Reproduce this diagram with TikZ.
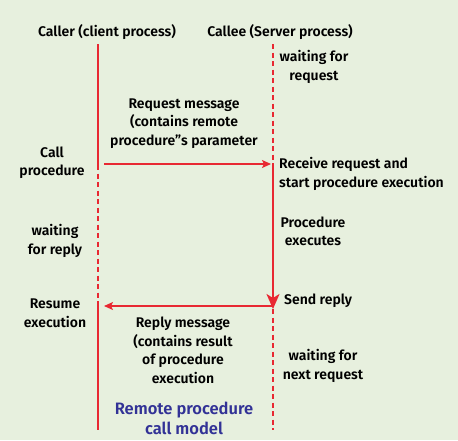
\documentclass[tikz,border=0pt]{standalone}
\usepackage{fontspec}
\setmainfont{Fira Sans}[UprightFont={* SemiBold}]
\usetikzlibrary{arrows.meta}
\definecolor{bg}{RGB}{231,240,222}
\definecolor{rl}{RGB}{232,40,50}
\definecolor{tb}{RGB}{50,50,150}
\begin{document}
\begin{tikzpicture}[x=1pt,y=-1pt,
  lbl/.style={font=\fontsize{14}{18.5}\selectfont, align=center, inner sep=0pt, text=black},
  solidln/.style={draw=rl, line width=2pt},
  dashln/.style={draw=rl, line width=2pt, dash pattern=on 5pt off 3.5pt},
  msg/.style={draw=rl, line width=1.2pt, -{Stealth[length=9pt,width=8pt,inset=2pt]}},
  bigarrow/.style={draw=rl, line width=2pt, -{Stealth[length=15pt,width=13pt,inset=4pt]}},
]
\fill[bg] (0,0) rectangle (458,440);
\useasboundingbox (0,0) rectangle (458,440);
% lifeline coordinates
\coordinate (L0) at (98,44);
\coordinate (L1) at (98,165);
\coordinate (L2) at (98,304);
\coordinate (L3) at (98,430);
\coordinate (R0) at (273,44);
\coordinate (R1) at (273,163);
\coordinate (R2) at (273,309);
\coordinate (R3) at (273,430);
\coordinate (A1) at (104,164);
\coordinate (A2) at (271,164);
\coordinate (B1) at (272,306);
\coordinate (B2) at (104,306);
% lifelines
\draw[solidln] (L0) -- (L1);
\draw[dashln] (L1) -- (L2);
\draw[solidln] (L2) -- (L3);
\draw[dashln] (R0) -- (R1);
\draw[bigarrow] (R1) -- (R2);
\draw[dashln] (R2) -- (R3);
% messages
\draw[msg] (A1) -- (A2);
\draw[msg] (B1) -- (B2);
% labels
\node[lbl] (caller) at (107,32) {Caller (client process)};
\node[lbl] (callee) at (280,32) {Callee (Server process)};
\node[lbl] (waitreq) at (314,67) {waiting for\\request};
\node[lbl] (reqmsg) at (184,123.5) {Request message\\(contains remote\\procedure”s parameter};
\node[lbl] (callproc) at (52,162.5) {Call\\procedure};
\node[lbl, anchor=west, align=left] (recv) at (279,174) {Receive request and\\start procedure execution};
\node[lbl] (procexec) at (313,231.5) {Procedure\\executes};
\node[lbl] (waitreply) at (55,241) {waiting\\for reply};
\node[lbl] (resume) at (55,313.5) {Resume\\execution};
\node[lbl, anchor=west] (sendreply) at (284,301) {Send reply};
\node[lbl] (replymsg) at (183,350.5) {Reply message\\(contains result\\of procedure\\execution};
\node[lbl] (waitnext) at (323,366) {waiting for\\next request};
\node[lbl, text=tb, font=\fontsize{16.5}{20}\selectfont] (title) at (184,418) {Remote procedure\\call model};
\end{tikzpicture}
\end{document}
